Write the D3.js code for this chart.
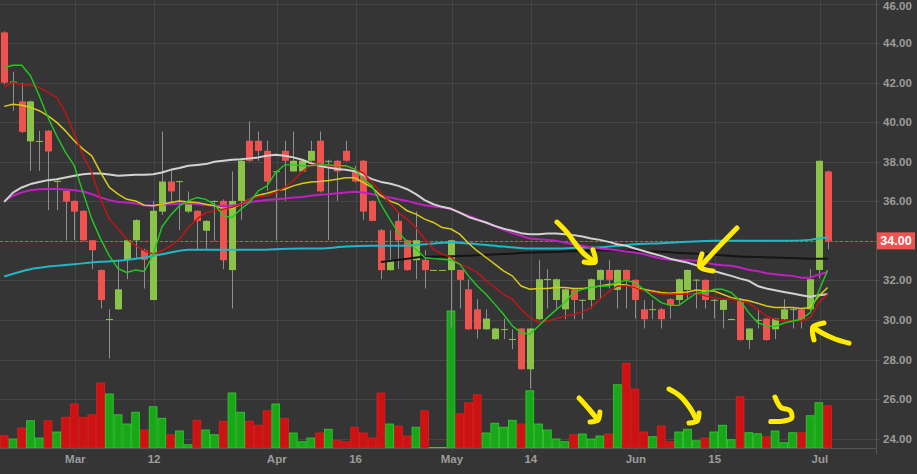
<!DOCTYPE html>
<html><head><meta charset="utf-8">
<script src="https://cdn.jsdelivr.net/npm/d3@7"></script>
<style>html,body{margin:0;padding:0;background:#353535;overflow:hidden}</style>
</head><body><svg id="c" width="917" height="474"></svg>
<script>
// ---- DATA ----
const opens =[44.54,42.0,41.05,39.03,39.0,39.57,37.0,36.53,36.02,35.52,34.03,32.53,30.02,30.54,33.04,34.03,33.53,31.01,35.48,37.0,37.0,35.48,35.52,34.51,36.0,36.02,32.52,36.02,39.06,39.06,38.55,37.5,38.55,37.51,37.51,38.05,39.06,38.03,38.05,38.55,37.51,38.05,36.02,34.54,32.52,35.01,34.03,33.02,33.04,32.52,32.52,32.52,32.53,31.55,30.54,29.53,29.03,29.52,29.02,29.57,27.51,30.04,32.05,31.01,30.54,31.55,31.0,31.01,32.03,32.53,31.52,32.53,32.03,30.54,30.53,30.54,31.05,31.01,31.52,32.02,32.03,31.0,30.51,30.03,31.05,28.99,29.99,30.07,29.53,30.04,30.53,30.54,30.54,32.53,37.51];
const highs =[44.6,42.55,42.0,41.1,39.57,39.6,37.05,36.55,36.05,35.55,34.05,32.55,30.54,33.04,34.05,35.1,33.6,36.02,39.53,37.54,37.05,36.5,35.55,35.05,36.05,36.1,37.51,38.1,40.04,39.53,39.06,37.55,39.06,39.53,38.1,39.06,39.53,38.1,38.1,39.06,37.8,38.1,36.05,34.6,34.54,35.48,34.05,35.48,33.53,32.54,32.54,34.05,32.55,32.06,31.05,30.54,29.6,30.07,29.53,29.6,29.6,33.04,32.57,32.1,31.6,31.6,31.05,32.1,32.55,33.04,32.55,32.55,32.05,31.01,31.01,30.6,31.1,32.1,32.55,32.05,32.05,31.05,31.05,30.07,31.1,29.6,30.54,30.1,30.1,31.05,30.6,30.6,32.57,38.05,37.55];
const lows  =[41.9,40.58,39.45,37.54,37.54,35.55,35.55,34.03,34.03,34.0,32.57,30.58,28.05,30.5,32.06,33.07,31.59,31.0,35.3,36.0,34.54,35.4,33.53,33.53,34.0,32.57,30.58,35.05,38.0,38.05,36.53,34.03,36.02,37.5,37.5,38.0,36.45,34.03,36.02,38.0,36.95,35.05,35.0,32.06,32.5,32.57,32.5,32.06,31.59,32.5,32.5,29.62,30.58,29.5,29.06,29.5,29.0,29.03,28.52,27.5,26.53,30.0,30.58,30.58,30.04,30.04,30.04,30.58,31.05,31.59,30.58,30.58,30.07,29.57,30.04,29.57,30.07,30.8,31.05,30.58,30.58,30.07,29.57,30.0,28.95,28.52,29.57,28.95,29.03,30.0,29.57,29.57,30.5,32.1,33.57];
const closes=[42.0,42.05,39.51,41.05,39.05,38.52,37.03,35.99,35.48,34.03,33.53,31.01,30.05,31.55,34.03,35.05,33.04,35.52,37.0,36.5,37.02,35.99,35.01,35.01,36.02,33.02,36.02,38.05,38.05,38.55,37.0,37.52,38.05,38.05,38.05,38.55,36.5,38.05,37.51,38.05,37.0,35.48,35.01,32.52,33.04,34.03,32.52,34.03,32.52,32.53,32.53,34.03,32.03,29.53,29.53,30.07,29.57,29.54,29.04,27.51,29.57,32.06,32.07,32.06,31.55,31.01,31.02,32.06,32.53,32.03,32.53,32.03,31.01,30.04,30.55,30.04,30.75,32.06,32.53,32.04,31.01,31.02,31.01,30.05,28.99,29.57,30.01,28.99,30.07,30.54,30.55,30.04,32.06,38.05,34.0];
const volumes=[0.49,0.36,0.80,1.09,0.40,1.09,0.64,1.23,1.76,1.23,1.33,2.60,2.16,1.33,0.96,1.43,0.72,1.65,1.19,0.53,0.68,0.13,1.11,0.72,0.53,1.07,2.20,1.43,1.07,0.91,1.49,1.76,1.19,0.60,0.25,0.40,0.60,0.75,0.29,0.25,0.83,0.60,0.40,2.20,0.96,0.88,0.48,0.83,1.49,0.02,0.02,5.48,1.37,1.81,2.13,0.60,0.99,0.83,1.11,0.96,2.29,0.96,0.72,0.36,0.25,0.53,0.56,0.36,0.48,0.56,2.53,3.39,2.36,0.64,0.45,0.88,0.25,0.64,0.75,0.29,0.40,0.64,0.91,0.33,2.05,0.61,0.57,0.45,0.68,0.21,0.61,0.61,1.29,1.81,1.69];

const tickIdx   =[8,17,31,40,51,60,72,81,93];
const tickLabels=["Mar","12","Apr","16","May","14","Jun","15","Jul"];
const priceTicks=[46,44,42,40,38,36,34,32,30,28,26,24];
const lastPrice = 34.00;

// moving average lines, one value per bar
const maFast=[42.75,42.88,42.88,42.35,41.34,40.24,39.3,38.47,37.8,36.45,35.1,34.1,33.24,32.6,32.4,32.53,32.45,33.3,34.7,35.3,35.77,36.02,36.19,36.1,35.85,35.27,35.18,35.6,35.94,36.53,36.78,37.46,37.84,37.84,37.8,37.8,37.84,37.84,37.8,37.8,37.63,37.12,36.78,35.85,35.1,34.42,33.95,33.58,33.16,33.1,33.07,33.03,32.82,32.23,31.72,31.3,30.8,30.29,29.7,29.36,29.28,29.7,30.12,30.51,30.88,31.39,31.55,31.64,31.72,31.72,31.9,32.0,31.9,31.55,31.2,30.88,30.74,30.74,31.05,31.35,31.39,31.55,31.55,31.39,30.97,30.37,29.87,29.7,29.67,29.84,29.95,30.04,30.37,31.47,32.53];
const maRed =[41.76,42.01,41.88,41.88,41.76,41.5,41.25,40.49,39.4,38.3,37.46,36.1,35.1,34.6,34.08,33.75,33.5,33.33,33.5,33.75,34.08,34.67,35.1,35.43,35.52,35.6,35.69,35.85,36.1,36.24,36.28,36.45,36.7,37.04,37.49,37.83,37.88,37.8,37.8,37.76,37.63,37.42,36.95,36.45,35.94,35.43,35.1,34.67,34.08,33.58,33.33,33.18,32.82,32.65,32.4,31.98,31.64,31.3,31.05,30.54,30.12,29.87,29.95,30.07,30.2,30.29,30.41,30.63,31.05,31.42,31.72,31.72,31.64,31.47,31.39,31.3,31.3,31.3,31.3,31.35,31.22,31.13,31.08,31.05,30.97,30.85,30.54,30.2,30.04,29.95,29.95,29.95,30.12,30.88,31.3];
const maYel =[40.8,40.91,40.86,40.75,40.58,40.32,39.99,39.56,39.06,38.64,38.3,37.46,36.7,36.36,36.1,36.02,35.8,35.77,35.85,35.94,36.02,35.97,35.94,35.85,35.77,35.63,35.63,35.85,36.1,36.31,36.41,36.53,36.61,36.78,36.9,36.98,37.0,37.05,37.12,37.19,37.19,36.95,36.7,36.28,36.02,35.85,35.52,35.35,35.1,34.93,34.67,34.6,34.34,33.88,33.49,33.16,32.82,32.48,32.23,31.72,31.55,31.59,31.59,31.64,31.64,31.59,31.59,31.64,31.72,31.8,31.81,31.77,31.64,31.55,31.47,31.39,31.35,31.39,31.42,31.52,31.47,31.47,31.3,31.13,31.05,30.97,30.85,30.71,30.63,30.63,30.63,30.58,30.63,31.22,31.64];
const maWhite=[35.97,36.44,36.7,36.87,36.98,37.07,37.12,37.2,37.29,37.37,37.41,37.41,37.36,37.29,37.32,37.34,37.34,37.37,37.46,37.59,37.68,37.8,37.84,37.88,38.0,38.05,38.1,38.13,38.17,38.22,38.3,38.35,38.3,38.22,38.1,37.93,37.8,37.71,37.63,37.59,37.52,37.32,37.12,36.98,36.9,36.78,36.61,36.36,36.06,35.85,35.72,35.62,35.43,35.21,35.06,34.93,34.76,34.62,34.51,34.39,34.34,34.34,34.37,34.37,34.34,34.29,34.22,34.12,34.05,33.95,33.83,33.75,33.61,33.49,33.36,33.24,33.1,32.99,32.9,32.77,32.6,32.48,32.35,32.23,32.09,31.98,31.72,31.59,31.5,31.42,31.34,31.25,31.17,31.25,31.3];
const maMag =[36.02,36.28,36.45,36.56,36.61,36.62,36.62,36.6,36.56,36.5,36.36,36.19,36.06,35.97,35.94,35.89,35.8,35.77,35.85,35.85,35.89,35.9,35.85,35.82,35.77,35.77,35.77,35.85,35.97,36.02,36.06,36.1,36.14,36.19,36.22,36.28,36.33,36.36,36.41,36.45,36.48,36.45,36.36,36.28,36.19,36.1,36.02,35.9,35.8,35.74,35.69,35.62,35.43,35.27,35.1,34.93,34.73,34.56,34.39,34.25,34.12,34.08,34.05,34.0,33.92,33.83,33.75,33.66,33.61,33.58,33.53,33.46,33.41,33.33,33.21,33.11,33.04,33.02,33.02,32.99,32.9,32.82,32.77,32.74,32.65,32.53,32.48,32.36,32.31,32.26,32.23,32.14,32.14,32.3,32.42];
const cyanIdx =[0,3,5,8,11,13,15,17,19,21,23,26,29,31,34,36,39,42,45,48,51,54,57,60,63,66,68,70,72,75,78,81,83,86,89,92,93,94];
const cyanVals=[32.2,32.57,32.7,32.82,32.94,32.99,33.1,33.24,33.41,33.55,33.55,33.55,33.55,33.58,33.61,33.61,33.71,33.75,33.75,33.83,33.92,33.83,33.71,33.61,33.61,33.66,33.68,33.75,33.83,33.88,33.95,34.0,34.0,34.0,34.0,34.05,34.12,34.17];
const blackIdx =[43,46,48,51,54,57,60,63,66,68,72,76,80,83,86,89,92,94];
const blackVals=[32.93,33.1,33.2,33.22,33.27,33.33,33.41,33.44,33.49,33.52,33.5,33.42,33.33,33.24,33.18,33.15,33.1,33.1];

// hand-drawn yellow annotations: [bar index, value] pairs; pane "p" = price, "v" = volume
const notes=[
 {pane:"p",pts:[[63.1,34.95],[64.3,34.4],[65.3,33.8],[66.3,33.3],[67.44,32.93]]},
 {pane:"p",pts:[[67.2,33.55],[67.44,32.93],[66.2,32.93]]},
 {pane:"p",pts:[[83.65,34.65],[82.0,33.9],[80.4,33.15],[79.43,32.68]]},
 {pane:"p",pts:[[79.66,33.34],[79.43,32.68],[80.9,32.48]]},
 {pane:"p",pts:[[96.44,28.83],[94.84,29.04],[93.36,29.34],[92.33,29.64]]},
 {pane:"p",pts:[[93.58,29.85],[92.33,29.64],[92.44,28.99]]},
 {pane:"v",pts:[[65.62,2.0],[66.7,1.58],[67.78,1.12]]},
 {pane:"v",pts:[[66.87,1.04],[67.78,1.12],[68.0,1.44]]},
 {pane:"v",pts:[[75.89,2.36],[77.15,2.08],[78.29,1.6],[79.09,1.08]]},
 {pane:"v",pts:[[78.17,1.0],[79.09,1.08],[79.32,1.4]]},
 {pane:"v",pts:[[87.99,2.04],[88.67,1.62],[89.7,1.5],[89.9,1.2],[89.0,1.08],[87.5,1.06]]}
];

// ---- CHART ----
const svg=d3.select("#c");
const PW=876, PH=448;
const x=d3.scaleLinear().domain([-0.48,99.52]).range([0,PW]);
const y=d3.scaleLinear().domain([23.528,46.177]).range([PH,0]);
const yv=d3.scaleLinear().domain([0,6]).range([PH,PH-150]);
const GREEN="#8bc34a", RED="#ef5350";

svg.append("rect").attr("width",917).attr("height",474).attr("fill","#353535");

// grid
const g=svg.append("g");
g.selectAll(".hg").data(priceTicks).join("line")
 .attr("x1",0).attr("x2",PW+4).attr("y1",d=>Math.round(y(d))+0.5).attr("y2",d=>Math.round(y(d))+0.5)
 .attr("stroke","#464646").attr("stroke-width",1);
g.selectAll(".vg").data(tickIdx).join("line")
 .attr("x1",d=>Math.round(x(d)+1)+0.5).attr("x2",d=>Math.round(x(d)+1)+0.5).attr("y1",0).attr("y2",PH+4)
 .attr("stroke","#464646").attr("stroke-width",1);

// volume
const idx=d3.range(closes.length);
svg.append("g").selectAll("rect").data(idx).join("rect")
 .attr("x",i=>x(i)-3.9).attr("width",7.8)
 .attr("y",i=>yv(volumes[i])).attr("height",i=>PH-yv(volumes[i]))
 .attr("fill",i=>closes[i]>=opens[i]?"#19a619":"#cc1212")
 .attr("stroke",i=>closes[i]>=opens[i]?"#2fd22f":"#e01e1e").attr("stroke-width",0.8);

// last price dashed line
svg.append("line").attr("x1",0).attr("x2",PW).attr("y1",Math.round(y(lastPrice))+0.5).attr("y2",Math.round(y(lastPrice))+0.5)
 .attr("stroke","#e04a4a").attr("stroke-width",1).attr("stroke-dasharray","3,2");

// candles
const cg=svg.append("g");
cg.selectAll("line").data(idx).join("line")
 .attr("x1",i=>Math.round(x(i))+0.5).attr("x2",i=>Math.round(x(i))+0.5)
 .attr("y1",i=>y(highs[i])).attr("y2",i=>y(lows[i]))
 .attr("stroke","#8e8e8e").attr("stroke-width",1);
cg.selectAll("rect").data(idx).join("rect")
 .attr("x",i=>Math.round(x(i))-3).attr("width",7)
 .attr("y",i=>y(Math.max(opens[i],closes[i])))
 .attr("height",i=>Math.max(1,Math.abs(y(opens[i])-y(closes[i]))))
 .attr("fill",i=>closes[i]>=opens[i]?GREEN:RED);

// moving averages
function drawLine(xs,vals,color,w,curve){
  const ln=d3.line().x((d,k)=>x(xs[k])).y(d=>y(d)).curve(curve||d3.curveLinear);
  svg.append("path").attr("d",ln(vals)).attr("fill","none").attr("stroke",color)
   .attr("stroke-width",w).attr("stroke-linejoin","round");
}
drawLine(cyanIdx,cyanVals,"#1fb8c6",2,d3.curveMonotoneX);
drawLine(blackIdx,blackVals,"#141414",2,d3.curveMonotoneX);
drawLine(idx,maMag,"#c21fc2",2);
drawLine(idx,maWhite,"#d2d2d2",2);
drawLine(idx,maYel,"#d8ca1c",1.5);
drawLine(idx,maRed,"#c81414",1.4);
drawLine(idx,maFast,"#1fcc1f",1.4);

// annotations
const ng=svg.append("g");
notes.forEach(n=>{
  const sy=n.pane==="p"?y:yv;
  const ln=d3.line().x(d=>x(d[0])).y(d=>sy(d[1])).curve(d3.curveCatmullRom);
  ng.append("path").attr("d",ln(n.pts)).attr("fill","none").attr("stroke","#ffea00")
   .attr("stroke-width",5).attr("stroke-linecap","round").attr("stroke-linejoin","round");
});

// axes
svg.append("line").attr("x1",PW+0.5).attr("x2",PW+0.5).attr("y1",0).attr("y2",PH+6).attr("stroke","#565656");
svg.append("line").attr("x1",0).attr("x2",PW).attr("y1",PH+0.5).attr("y2",PH+0.5).attr("stroke","#565656");
const font="'Liberation Sans', Arial, sans-serif";
svg.append("g").selectAll("text").data(priceTicks.filter(d=>d!==lastPrice)).join("text")
 .attr("x",883).attr("y",d=>Math.max(y(d)+4,9.5)).text(d=>d.toFixed(2))
 .attr("fill","#9c9c9c").attr("font-family",font).attr("font-size",11.5).attr("font-weight","bold");
svg.append("g").selectAll("text").data(tickIdx).join("text")
 .attr("x",d=>x(d)+1).attr("y",463).attr("text-anchor","middle").text((d,k)=>tickLabels[k])
 .attr("fill","#9c9c9c").attr("font-family",font).attr("font-size",11.5).attr("font-weight","bold");
// last price label
svg.append("rect").attr("x",PW+1).attr("y",y(lastPrice)-8.5).attr("width",38).attr("height",17).attr("fill","#ef5350");
svg.append("text").attr("x",PW+20).attr("y",y(lastPrice)+4.5).attr("text-anchor","middle").text(lastPrice.toFixed(2))
 .attr("fill","#ffffff").attr("font-family",font).attr("font-size",12.5).attr("font-weight","bold");
</script></body></html>
